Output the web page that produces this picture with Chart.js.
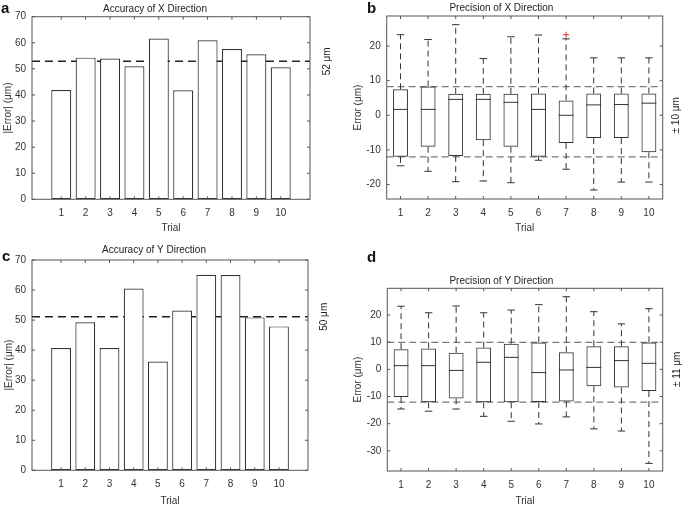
<!DOCTYPE html>
<html>
<head>
<meta charset="utf-8">
<script src="https://cdn.jsdelivr.net/npm/chart.js@4.4.1/dist/chart.umd.min.js"></script>
<style>
  body { margin: 0; background: #fff; }
  #wrap { position: relative; width: 685px; height: 507px; overflow: hidden; font-family: 'Liberation Sans', Arial, sans-serif; }
  .panel { position: absolute; }
  .letter { position: absolute; font-weight: bold; font-size: 15px; line-height: 15px; color: #111; }
</style>
</head>
<body>
<div id="wrap">
  <div class="panel" style="left:0;top:0;width:340px;height:240px"><canvas id="chartA" width="340" height="240"></canvas></div>
  <div class="panel" style="left:340px;top:0;width:345px;height:240px"><canvas id="chartB" width="345" height="240"></canvas></div>
  <div class="panel" style="left:0;top:240px;width:340px;height:267px"><canvas id="chartC" width="340" height="267"></canvas></div>
  <div class="panel" style="left:340px;top:240px;width:345px;height:267px"><canvas id="chartD" width="345" height="267"></canvas></div>
  <div class="letter" style="left:1px;top:0px">a</div>
  <div class="letter" style="left:367px;top:0px">b</div>
  <div class="letter" style="left:2px;top:248px">c</div>
  <div class="letter" style="left:367px;top:249px">d</div>
</div>
<script>
const FONT = "'Liberation Sans', Arial, sans-serif";

const trials = [1, 2, 3, 4, 5, 6, 7, 8, 9, 10];
const accTicks = [0, 10, 20, 30, 40, 50, 60, 70];

// a: accuracy X
const accuracyX = [41.9, 54.3, 54.0, 51.0, 61.6, 41.8, 61.0, 57.6, 55.6, 50.6];
const accuracyXMean = 52.9;
const accuracyXLabel = '52 μm';

// c: accuracy Y
const accuracyY = [40.7, 49.3, 40.7, 60.5, 36.2, 53.2, 65.1, 65.0, 50.9, 47.9];
const accuracyYMean = 51.1;
const accuracyYLabel = '50 μm';

// b: precision X (box plot stats)
const precXQ1 = [-12.0, -9.1, -11.8, -7.2, -9.1, -12.0, -8.0, -6.6, -6.6, -10.7];
const precXMed = [1.7, 1.7, 4.6, 4.6, 3.75, 1.7, 0.0, 3.0, 3.1, 3.5];
const precXQ3 = [7.5, 8.3, 6.2, 6.2, 6.2, 6.3, 4.3, 6.3, 6.3, 6.3];
const precXLo = [-14.6, -16.2, -19.2, -19.0, -19.5, -13.0, -15.6, -21.6, -19.3, -19.3];
const precXHi = [23.3, 21.9, 26.2, 16.4, 22.7, 23.2, 22.1, 16.6, 16.6, 16.6];
const precXOutliers = [{ x: 7, y: 23.3 }];
const precXBand = [8.3, -12.0];
const precXLabel = '± 10 μm';
const precXTicks = [-20, -10, 0, 10, 20];

// d: precision Y (box plot stats)
const precYQ1 = [-10.2, -12.1, -10.7, -12.1, -12.1, -12.0, -11.8, -6.25, -6.7, -8.0];
const precYMed = [1.35, 1.35, -0.4, 2.6, 4.4, -1.2, -0.25, 0.7, 3.2, 2.2];
const precYQ3 = [7.4, 7.7, 6.1, 8.0, 9.4, 9.9, 6.25, 8.5, 8.5, 9.9];
const precYLo = [-14.6, -15.4, -14.6, -17.3, -19.1, -20.1, -17.5, -21.9, -22.7, -34.6];
const precYHi = [23.2, 20.8, 23.3, 20.8, 21.8, 23.8, 26.7, 21.2, 16.7, 22.3];
const precYBand = [9.9, -12.1];
const precYLabel = '± 11 μm';
const precYTicks = [-30, -20, -10, 0, 10, 20];

Chart.defaults.font.family = FONT;
Chart.defaults.font.size = 10;
Chart.defaults.color = '#333';

// axes box, inward ticks, rotated side label
const framePlugin = {
    id: 'frame',
    afterDraw(chart, args, opts) {
        const { ctx, chartArea: a, scales } = chart;
        ctx.save();
        ctx.strokeStyle = '#555';
        ctx.lineWidth = 1;
        ctx.strokeRect(a.left, a.top, a.right - a.left, a.bottom - a.top);
        ctx.beginPath();
        scales.x.ticks.forEach(t => {
            const px = scales.x.getPixelForValue(t.value);
            ctx.moveTo(px, a.bottom); ctx.lineTo(px, a.bottom - 3);
            ctx.moveTo(px, a.top); ctx.lineTo(px, a.top + 3);
        });
        scales.y.ticks.forEach(t => {
            const py = scales.y.getPixelForValue(t.value);
            ctx.moveTo(a.left, py); ctx.lineTo(a.left + 3, py);
            ctx.moveTo(a.right, py); ctx.lineTo(a.right - 3, py);
        });
        ctx.stroke();
        if (opts.text) {
            const py = scales.y.getPixelForValue(opts.value);
            ctx.translate(a.right + opts.dx, py);
            ctx.rotate(-Math.PI / 2);
            ctx.fillStyle = '#222';
            ctx.font = '10px ' + FONT;
            ctx.textAlign = 'center';
            ctx.textBaseline = 'middle';
            ctx.fillText(opts.text, 0, 0);
        }
        ctx.restore();
    }
};

// whiskers, caps and medians for the box datasets
const boxPlugin = {
    id: 'boxes',
    afterDatasetsDraw(chart, args, opts) {
        if (!opts.med) return;
        const { ctx, scales } = chart;
        const meta = chart.getDatasetMeta(0);
        ctx.save();
        ctx.strokeStyle = '#333';
        ctx.lineWidth = 1;
        meta.data.forEach((bar, i) => {
            const x = bar.x;
            const half = bar.width / 2;
            const yq1 = scales.y.getPixelForValue(opts.q1[i]);
            const yq3 = scales.y.getPixelForValue(opts.q3[i]);
            const ylo = scales.y.getPixelForValue(opts.lo[i]);
            const yhi = scales.y.getPixelForValue(opts.hi[i]);
            const ymed = scales.y.getPixelForValue(opts.med[i]);
            ctx.setLineDash([6, 4]);
            ctx.beginPath();
            ctx.moveTo(x, yq3); ctx.lineTo(x, yhi);
            ctx.moveTo(x, yq1); ctx.lineTo(x, ylo);
            ctx.stroke();
            ctx.setLineDash([]);
            ctx.beginPath();
            ctx.moveTo(x - half / 2, yhi); ctx.lineTo(x + half / 2, yhi);
            ctx.moveTo(x - half / 2, ylo); ctx.lineTo(x + half / 2, ylo);
            ctx.moveTo(x - half, ymed); ctx.lineTo(x + half, ymed);
            ctx.stroke();
        });
        ctx.restore();
    }
};

Chart.register(framePlugin, boxPlugin);

function hLine(y, x0, x1, color, dash, width) {
    return {
        type: 'line',
        data: [{ x: x0, y: y }, { x: x1, y: y }],
        borderColor: color,
        borderDash: dash,
        borderWidth: width,
        pointRadius: 0,
        fill: false
    };
}

function baseOptions(p) {
    return {
        responsive: false,
        devicePixelRatio: 1,
        animation: false,
        layout: { padding: { left: 0, right: p.right, top: 0, bottom: 0 } },
        plugins: {
            legend: { display: false },
            tooltip: { enabled: false },
            title: {
                display: true,
                text: p.title,
                color: '#222',
                font: { size: 10, weight: 'normal' },
                padding: p.titlePad
            },
            frame: p.frame,
            boxes: p.boxes || {}
        },
        scales: {
            x: {
                type: 'linear',
                min: p.xMin,
                max: p.xMax,
                offset: false,
                grid: { display: false, drawTicks: false },
                border: { display: false },
                afterBuildTicks: s => { s.ticks = trials.map(v => ({ value: v })); },
                ticks: { padding: 8, color: '#333', maxRotation: 0 },
                title: { display: true, text: 'Trial', color: '#333', padding: { top: 0, bottom: p.trialPad } },
                afterFit: s => { s.height = p.xHeight; }
            },
            y: {
                min: p.yMin,
                max: p.yMax,
                grid: { display: false, drawTicks: false },
                border: { display: false },
                afterBuildTicks: s => { s.ticks = p.yTicks.map(v => ({ value: v })); },
                ticks: { padding: 6, color: '#333' },
                title: { display: true, text: p.yTitle, color: '#333', padding: { top: p.yTitlePad, bottom: 0 } },
                afterFit: s => { s.width = p.yWidth; }
            }
        }
    };
}

function barChart(id, values, mean, label, p) {
    return new Chart(document.getElementById(id), {
        type: 'bar',
        data: {
            datasets: [
                {
                    data: trials.map((t, i) => ({ x: t, y: values[i] })),
                    backgroundColor: '#fff',
                    borderColor: '#333',
                    borderWidth: 1.2,
                    borderSkipped: false,
                    categoryPercentage: 1,
                    barPercentage: 0.82
                },
                hLine(mean, -0.2, 11.2, '#222', [8, 5], 1.5)
            ]
        },
        options: baseOptions(Object.assign({
            xMin: -0.2, xMax: 11.2, yMin: 0, yMax: 70, yTicks: accTicks,
            yTitle: '|Error| (μm)',
            frame: { text: label, value: mean, dx: p.labelDx }
        }, p))
    });
}

function boxChart(id, q1, med, q3, lo, hi, band, outliers, label, p) {
    const datasets = [
        {
            data: trials.map((t, i) => ({ x: t, y: [q1[i], q3[i]] })),
            backgroundColor: 'rgba(0,0,0,0)',
            borderColor: '#333',
            borderWidth: 1,
            borderSkipped: false,
            categoryPercentage: 1,
            barPercentage: 0.54
        },
        hLine(band[0], 0.5, 10.5, '#7a7a7a', [7, 4], 1.2),
        hLine(band[1], 0.5, 10.5, '#7a7a7a', [7, 4], 1.2)
    ];
    if (outliers.length) {
        datasets.push({
            type: 'scatter',
            data: outliers,
            pointStyle: 'cross',
            pointRadius: 3,
            borderColor: '#e03030',
            borderWidth: 1
        });
    }
    return new Chart(document.getElementById(id), {
        type: 'bar',
        data: { datasets: datasets },
        options: baseOptions(Object.assign({
            xMin: 0.5, xMax: 10.5,
            yTitle: 'Error (μm)',
            frame: { text: label, value: 0, dx: p.labelDx },
            boxes: { q1: q1, med: med, q3: q3, lo: lo, hi: hi }
        }, p))
    });
}

barChart('chartA', accuracyX, accuracyXMean, accuracyXLabel, {
    title: 'Accuracy of X Direction', right: 30, titlePad: { top: 3, bottom: 1.7 },
    xHeight: 40.7, trialPad: 6, yWidth: 32, yTitlePad: 2, labelDx: 17
});

barChart('chartC', accuracyY, accuracyYMean, accuracyYLabel, {
    title: 'Accuracy of Y Direction', right: 32, titlePad: { top: 4.7, bottom: 3.3 },
    xHeight: 36.7, trialPad: 0, yWidth: 32, yTitlePad: 3, labelDx: 16
});

boxChart('chartB', precXQ1, precXMed, precXQ3, precXLo, precXHi, precXBand, precXOutliers, precXLabel, {
    title: 'Precision of X Direction', right: 22.3, titlePad: { top: 2, bottom: 2 },
    xHeight: 41, trialPad: 6, yWidth: 46.7, yTitlePad: 12, labelDx: 14,
    yMin: -24.2, yMax: 28.7, yTicks: precXTicks
});

boxChart('chartD', precYQ1, precYMed, precYQ3, precYLo, precYHi, precYBand, [], precYLabel, {
    title: 'Precision of Y Direction', right: 22.3, titlePad: { top: 35, bottom: 1.3 },
    xHeight: 36, trialPad: 0, yWidth: 47.3, yTitlePad: 12, labelDx: 14.3,
    yMin: -37.4, yMax: 29.8, yTicks: precYTicks
});
</script>
</body>
</html>
